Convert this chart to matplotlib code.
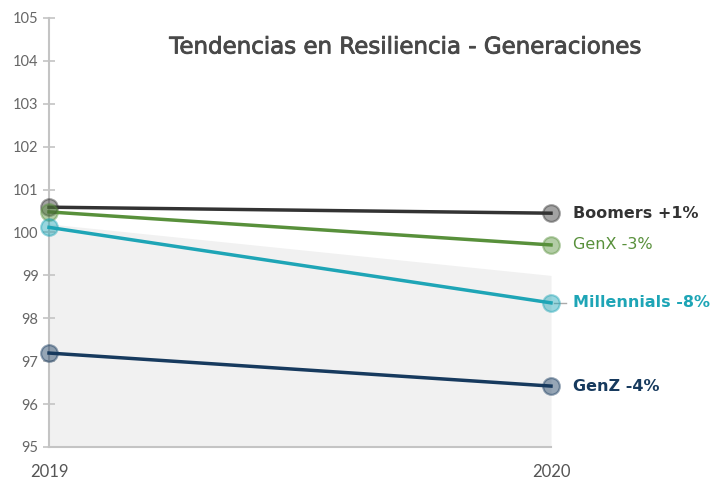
import matplotlib.pyplot as plt
import matplotlib.patheffects as pe

# ── Data ──────────────────────────────────────────────────────────────────────

years = [2019, 2020]
generations = ["Boomers", "GenX", "Millennials", "GenZ"]
labels = ["Boomers +1%", "GenX -3%", "Millennials -8%", "GenZ -4%"]
values = {
    "Boomers":     [100.59, 100.45],
    "GenX":        [100.48, 99.71],
    "Millennials": [100.12, 98.36],
    "GenZ":        [97.19, 96.42],
}
band_top = [100.2, 99.0]

COLORS = {
    "Boomers":     "#333333",
    "GenX":        "#58903b",
    "Millennials": "#1ea5b6",
    "GenZ":        "#173a5e",
}
WEIGHTS = {
    "Boomers":     "bold",
    "GenX":        "normal",
    "Millennials": "bold",
    "GenZ":        "bold",
}

plt.rcParams["font.family"] = ["Lato", "DejaVu Sans"]
WIDE = ["DejaVu Sans"]

fig = plt.figure(figsize=(7.28, 4.79), dpi=100)
ax = fig.add_axes([49 / 728, 1 - 447 / 479, 502 / 728, 429 / 479])

ax.fill_between(years, band_top, 95, color="#f1f1f1", lw=0, zorder=0)

for gen, lab in zip(generations, labels):
    c = COLORS[gen]
    ax.plot(years, values[gen], color=c, lw=2.5, zorder=3, clip_on=False)
    ax.plot(years, values[gen], "o", ms=12, mfc=c, mec=c, alpha=0.45,
            mew=1.5, zorder=4, clip_on=False)
    ax.text(2020.043, values[gen][1], lab, color=c, fontsize=11.5,
            family=WIDE, fontweight=WEIGHTS[gen], va="center", ha="left")

# short leader line next to the Millennials label
ax.plot([2020.005, 2020.03], [values["Millennials"][1]] * 2, color="#aaaaaa",
        lw=1, clip_on=False, zorder=2)

ax.set_xlim(2019, 2020)
ax.set_ylim(95, 105)
ax.set_yticks(range(95, 106))
ax.set_xticks(years)
ax.set_xticklabels([str(y) for y in years])

for side in ["top", "right"]:
    ax.spines[side].set_visible(False)
for side in ["left", "bottom"]:
    ax.spines[side].set_color("#c4c4c4")
    ax.spines[side].set_linewidth(1.5)

ax.tick_params(axis="y", direction="inout", length=9, width=1.2,
               color="#c4c4c4", labelcolor="#666666", labelsize=10.5, pad=3)
ax.tick_params(axis="x", length=0, labelcolor="#555555", labelsize=12, pad=12)

title = fig.text(405 / 728, 1 - 47 / 479,
                 "Tendencias en Resiliencia - Generaciones",
                 ha="center", va="center", fontsize=16.5, color="#484848",
                 family=WIDE, fontweight="normal")
title.set_path_effects([pe.withStroke(linewidth=0.6, foreground="#484848")])

fig.savefig("out.png", dpi=100, facecolor="white")
